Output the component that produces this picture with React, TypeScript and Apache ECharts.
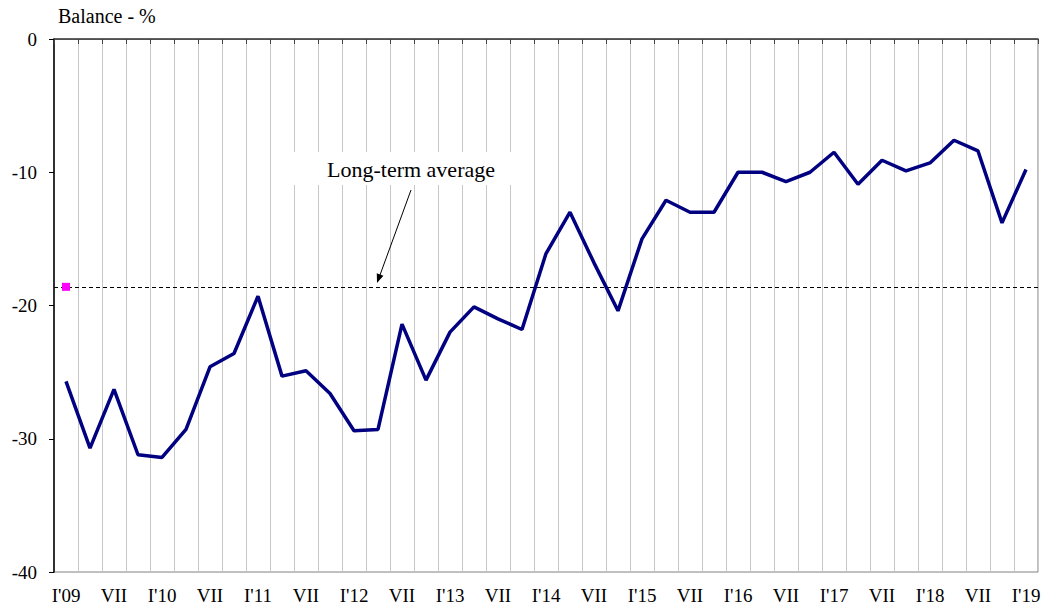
import React, { useEffect, useRef } from "react";
import * as echarts from "echarts";

const categories: string[] = [
  "I'09", "IV", "VII", "X",
  "I'10", "IV", "VII", "X",
  "I'11", "IV", "VII", "X",
  "I'12", "IV", "VII", "X",
  "I'13", "IV", "VII", "X",
  "I'14", "IV", "VII", "X",
  "I'15", "IV", "VII", "X",
  "I'16", "IV", "VII", "X",
  "I'17", "IV", "VII", "X",
  "I'18", "IV", "VII", "X",
  "I'19",
];

const balance: number[] = [
  -25.7, -30.7, -26.3, -31.2, -31.4, -29.3, -24.6, -23.6, -19.3, -25.3,
  -24.9, -26.6, -29.4, -29.3, -21.4, -25.6, -22.0, -20.1, -21.0, -21.8,
  -16.1, -13.0, -16.8, -20.4, -15.0, -12.1, -13.0, -13.0, -10.0, -10.0,
  -10.7, -10.0, -8.5, -10.9, -9.1, -9.9, -9.3, -7.6, -8.4, -13.8,
  -9.8,
];

const longTermAverage = -18.6;
const yTicks = { min: -40, max: 0, interval: 10 };

const FONT = "'Liberation Serif', 'Times New Roman', serif";

export default function App() {
  const ref = useRef<HTMLDivElement>(null);

  useEffect(() => {
    document.body.style.margin = "0";
    if (!ref.current) return;
    const chart = echarts.init(ref.current, undefined, { renderer: "svg" });
    chart.setOption({
      animation: false,
      backgroundColor: "#ffffff",
      textStyle: { fontFamily: FONT },
      grid: {
        left: 54,
        top: 39,
        right: 10,
        bottom: 38,
        show: true,
        borderColor: "#808080",
        borderWidth: 1,
        backgroundColor: "transparent",
      },
      xAxis: [
        {
          type: "category",
          data: categories,
          position: "bottom",
          boundaryGap: true,
          axisLine: { show: true, lineStyle: { color: "#808080", width: 1 } },
          axisTick: { show: false },
          splitLine: {
            show: true,
            interval: 0,
            lineStyle: { color: "#c8c8c8", width: 1 },
          },
          axisLabel: {
            interval: 1,
            color: "#000",
            fontFamily: FONT,
            fontSize: 19,
            margin: 14,
          },
        },
        {
          type: "category",
          data: categories,
          position: "top",
          boundaryGap: true,
          axisLine: { show: true, lineStyle: { color: "#404040", width: 1.5 } },
          axisTick: {
            show: true,
            inside: true,
            interval: 0,
            length: 5,
            lineStyle: { color: "#404040", width: 1 },
          },
          axisLabel: { show: false },
          splitLine: { show: false },
        },
      ],
      yAxis: {
        type: "value",
        min: yTicks.min,
        max: yTicks.max,
        interval: yTicks.interval,
        axisLine: { show: true, lineStyle: { color: "#000", width: 1.5 } },
        axisTick: { show: true, inside: false, length: 5, lineStyle: { color: "#000" } },
        splitLine: { show: false },
        axisLabel: {
          color: "#000",
          fontFamily: FONT,
          fontSize: 19,
          margin: 17,
        },
      },
      series: [
        {
          name: "Balance",
          type: "line",
          data: balance,
          xAxisIndex: 0,
          symbol: "none",
          lineStyle: { color: "#000080", width: 3.5 },
          z: 5,
          markLine: {
            silent: true,
            symbol: "none",
            label: { show: false },
            lineStyle: { color: "#000", width: 1, type: [4, 3] },
            data: [{ yAxis: longTermAverage }],
            z: 3,
          },
        },
        {
          name: "Long-term average",
          type: "scatter",
          xAxisIndex: 0,
          data: [[categories[0], longTermAverage]],
          symbol: "rect",
          symbolSize: 8,
          itemStyle: { color: "#ff00ff", opacity: 1, borderWidth: 0 },
          z: 6,
        },
      ],
      graphic: [
        {
          type: "text",
          left: 58,
          top: 6,
          style: {
            text: "Balance - %",
            fill: "#000",
            font: `20px ${FONT}`,
          },
        },
        {
          type: "rect",
          shape: { x: 290, y: 152, width: 224, height: 33 },
          style: { fill: "#ffffff" },
          z: 10,
        },
        {
          type: "text",
          x: 411,
          y: 169,
          style: {
            text: "Long-term average",
            fill: "#000",
            font: `22px ${FONT}`,
            align: "center",
            verticalAlign: "middle",
          },
          z: 11,
        },
        {
          type: "line",
          shape: { x1: 411, y1: 190, x2: 380, y2: 275 },
          style: { stroke: "#000", lineWidth: 1 },
          z: 11,
        },
        {
          type: "polygon",
          shape: { points: [[377, 283], [383.4, 275.7], [376.8, 273.3]] },
          style: { fill: "#000" },
          z: 11,
        },
      ],
    });
    return () => chart.dispose();
  }, []);

  return <div ref={ref} style={{ width: 1048, height: 610 }} />;
}
